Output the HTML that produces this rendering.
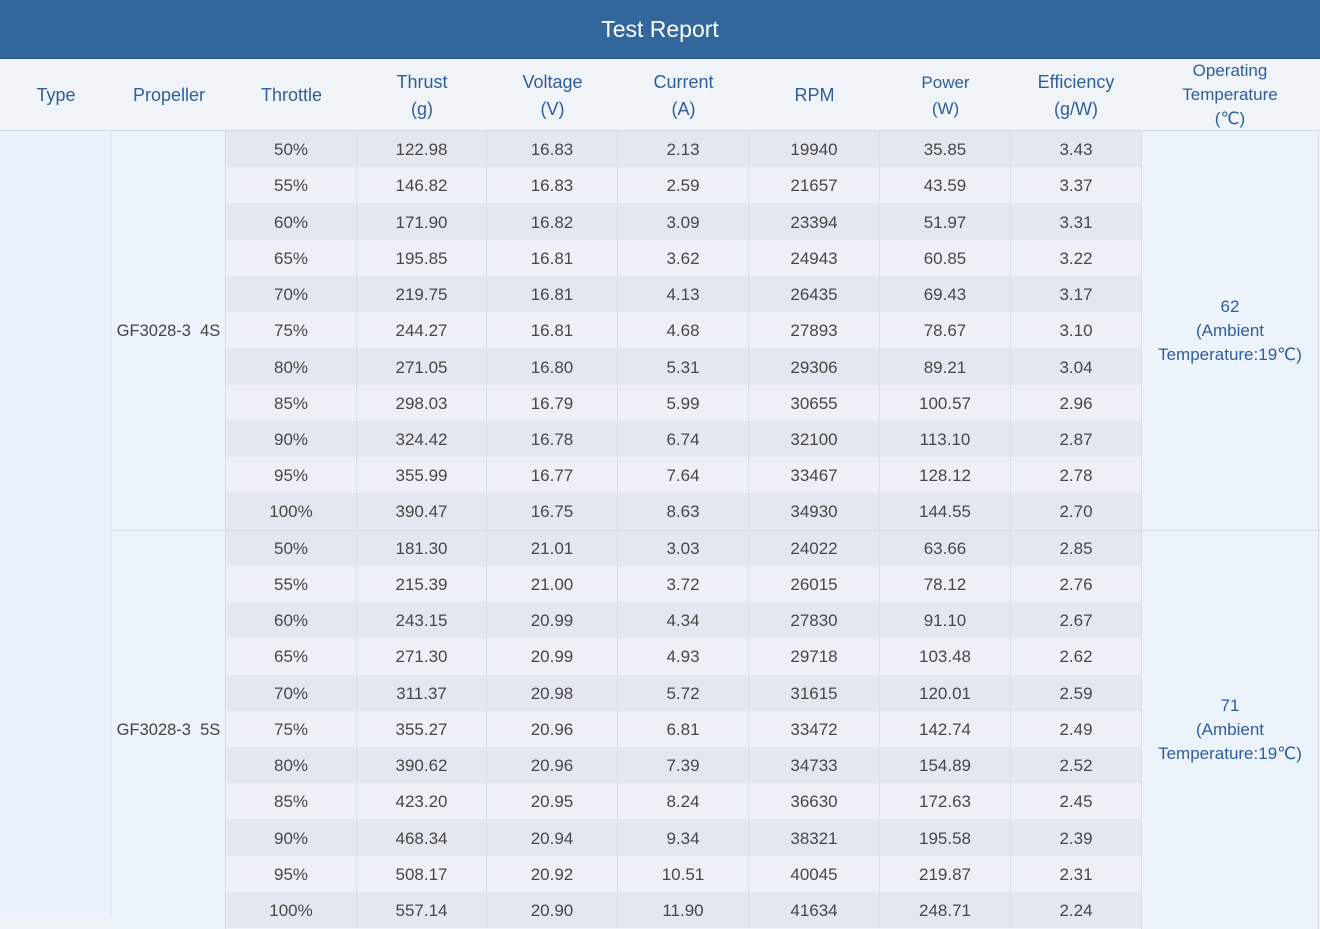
<!DOCTYPE html>
<html><head><meta charset="utf-8">
<style>
*{margin:0;padding:0;box-sizing:border-box}
html,body{width:1320px;height:917px;overflow:hidden;background:#eef3fa;font-family:"Liberation Sans","DejaVu Sans",sans-serif}
#title{position:absolute;left:0;top:0;width:1320px;height:59px;background:#33679b;color:#fff;font-size:23px;text-align:center;line-height:58px;border-bottom:1px solid #2c5c8c}
#hdr{position:absolute;left:0;top:59px;width:1320px;height:72px;background:#f0f4f9;border-bottom:1px solid #d3dae4}
.h{position:absolute;top:0;height:72px;display:flex;align-items:center;justify-content:center;text-align:center;color:#2f5e9c;font-size:18px;line-height:27px;padding-top:1px}
.h.s{font-size:17px;line-height:24px}
#type{position:absolute;left:0;top:131px;width:112px;height:786px;background:#ebf2fb;border-right:1px solid #dde4ed}
.prop{position:absolute;left:112px;width:114px;background:#edf3fb;border-right:1px solid #d6dde8;display:flex;align-items:center;justify-content:center;color:#444;font-size:16.5px;white-space:pre;padding-top:2px}
.grp{position:absolute;left:226px;width:915px}
.r{display:flex;height:36.24px}
.r.d{background:#e3e8f0}
.r.l{background:#edf1f7}
.r div{display:flex;align-items:center;justify-content:center;color:#474747;font-size:17px;border-right:1px solid #d8dfe8;height:100%;padding-top:2px}
.r div:last-child{border-right:none}
.c1{width:131px}.c2{width:130px}.c3{width:131px}.c4{width:131px}.c5{width:131px}.c6{width:131px}.c7{width:130px}
.tmp{position:absolute;left:1141px;width:178px;background:#edf3fa;border-left:1px solid #d6dde8;border-right:1px solid #d6dde8;display:flex;align-items:center;justify-content:center;text-align:center;color:#2f5e9c;font-size:17px;line-height:24px}
.sep{position:absolute;left:112px;top:530px;width:1208px;height:1px;background:#d3dae4}
</style></head><body>
<div id="title">Test Report</div>
<div id="hdr">
<div class="h" style="left:0;width:112px">Type</div>
<div class="h" style="left:112px;width:114px">Propeller</div>
<div class="h" style="left:226px;width:131px">Throttle</div>
<div class="h" style="left:357px;width:130px">Thrust<br>(g)</div>
<div class="h" style="left:487px;width:131px">Voltage<br>(V)</div>
<div class="h" style="left:618px;width:131px">Current<br>(A)</div>
<div class="h" style="left:749px;width:131px">RPM</div>
<div class="h s" style="left:880px;width:131px;line-height:26px">Power<br>(W)</div>
<div class="h" style="left:1011px;width:130px">Efficiency<br>(g/W)</div>
<div class="h s" style="left:1141px;width:178px;padding-top:0">Operating<br>Temperature<br>(℃)</div>
</div>
<div id="type"></div>
<div class="prop" style="top:131px;height:399px">GF3028-3  4S</div>
<div class="prop" style="top:530px;height:399px">GF3028-3  5S</div>
<div class="tmp" style="top:131px;height:399px">62<br>(Ambient<br>Temperature:19℃)</div>
<div class="tmp" style="top:530px;height:399px">71<br>(Ambient<br>Temperature:19℃)</div>
<div class="grp" style="top:131px">
<div class="r d"><div class="c1">50%</div><div class="c2">122.98</div><div class="c3">16.83</div><div class="c4">2.13</div><div class="c5">19940</div><div class="c6">35.85</div><div class="c7">3.43</div></div>
<div class="r l"><div class="c1">55%</div><div class="c2">146.82</div><div class="c3">16.83</div><div class="c4">2.59</div><div class="c5">21657</div><div class="c6">43.59</div><div class="c7">3.37</div></div>
<div class="r d"><div class="c1">60%</div><div class="c2">171.90</div><div class="c3">16.82</div><div class="c4">3.09</div><div class="c5">23394</div><div class="c6">51.97</div><div class="c7">3.31</div></div>
<div class="r l"><div class="c1">65%</div><div class="c2">195.85</div><div class="c3">16.81</div><div class="c4">3.62</div><div class="c5">24943</div><div class="c6">60.85</div><div class="c7">3.22</div></div>
<div class="r d"><div class="c1">70%</div><div class="c2">219.75</div><div class="c3">16.81</div><div class="c4">4.13</div><div class="c5">26435</div><div class="c6">69.43</div><div class="c7">3.17</div></div>
<div class="r l"><div class="c1">75%</div><div class="c2">244.27</div><div class="c3">16.81</div><div class="c4">4.68</div><div class="c5">27893</div><div class="c6">78.67</div><div class="c7">3.10</div></div>
<div class="r d"><div class="c1">80%</div><div class="c2">271.05</div><div class="c3">16.80</div><div class="c4">5.31</div><div class="c5">29306</div><div class="c6">89.21</div><div class="c7">3.04</div></div>
<div class="r l"><div class="c1">85%</div><div class="c2">298.03</div><div class="c3">16.79</div><div class="c4">5.99</div><div class="c5">30655</div><div class="c6">100.57</div><div class="c7">2.96</div></div>
<div class="r d"><div class="c1">90%</div><div class="c2">324.42</div><div class="c3">16.78</div><div class="c4">6.74</div><div class="c5">32100</div><div class="c6">113.10</div><div class="c7">2.87</div></div>
<div class="r l"><div class="c1">95%</div><div class="c2">355.99</div><div class="c3">16.77</div><div class="c4">7.64</div><div class="c5">33467</div><div class="c6">128.12</div><div class="c7">2.78</div></div>
<div class="r d"><div class="c1">100%</div><div class="c2">390.47</div><div class="c3">16.75</div><div class="c4">8.63</div><div class="c5">34930</div><div class="c6">144.55</div><div class="c7">2.70</div></div>
</div>
<div class="grp" style="top:529.6px">
<div class="r d"><div class="c1">50%</div><div class="c2">181.30</div><div class="c3">21.01</div><div class="c4">3.03</div><div class="c5">24022</div><div class="c6">63.66</div><div class="c7">2.85</div></div>
<div class="r l"><div class="c1">55%</div><div class="c2">215.39</div><div class="c3">21.00</div><div class="c4">3.72</div><div class="c5">26015</div><div class="c6">78.12</div><div class="c7">2.76</div></div>
<div class="r d"><div class="c1">60%</div><div class="c2">243.15</div><div class="c3">20.99</div><div class="c4">4.34</div><div class="c5">27830</div><div class="c6">91.10</div><div class="c7">2.67</div></div>
<div class="r l"><div class="c1">65%</div><div class="c2">271.30</div><div class="c3">20.99</div><div class="c4">4.93</div><div class="c5">29718</div><div class="c6">103.48</div><div class="c7">2.62</div></div>
<div class="r d"><div class="c1">70%</div><div class="c2">311.37</div><div class="c3">20.98</div><div class="c4">5.72</div><div class="c5">31615</div><div class="c6">120.01</div><div class="c7">2.59</div></div>
<div class="r l"><div class="c1">75%</div><div class="c2">355.27</div><div class="c3">20.96</div><div class="c4">6.81</div><div class="c5">33472</div><div class="c6">142.74</div><div class="c7">2.49</div></div>
<div class="r d"><div class="c1">80%</div><div class="c2">390.62</div><div class="c3">20.96</div><div class="c4">7.39</div><div class="c5">34733</div><div class="c6">154.89</div><div class="c7">2.52</div></div>
<div class="r l"><div class="c1">85%</div><div class="c2">423.20</div><div class="c3">20.95</div><div class="c4">8.24</div><div class="c5">36630</div><div class="c6">172.63</div><div class="c7">2.45</div></div>
<div class="r d"><div class="c1">90%</div><div class="c2">468.34</div><div class="c3">20.94</div><div class="c4">9.34</div><div class="c5">38321</div><div class="c6">195.58</div><div class="c7">2.39</div></div>
<div class="r l"><div class="c1">95%</div><div class="c2">508.17</div><div class="c3">20.92</div><div class="c4">10.51</div><div class="c5">40045</div><div class="c6">219.87</div><div class="c7">2.31</div></div>
<div class="r d"><div class="c1">100%</div><div class="c2">557.14</div><div class="c3">20.90</div><div class="c4">11.90</div><div class="c5">41634</div><div class="c6">248.71</div><div class="c7">2.24</div></div>
</div>
<div class="sep"></div>
</body></html>
